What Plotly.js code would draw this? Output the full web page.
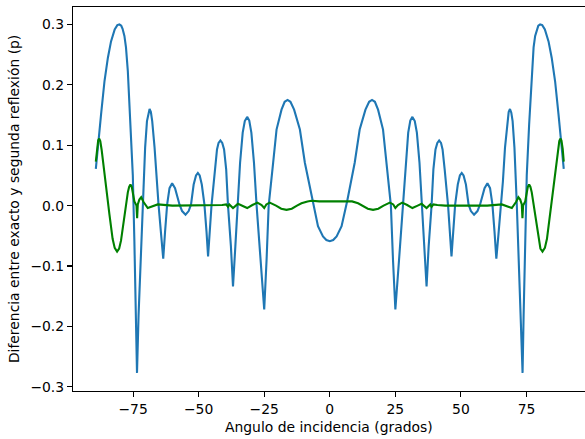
<!DOCTYPE html>
<html>
<head>
<meta charset="utf-8">
<script src="https://cdn.plot.ly/plotly-3.0.1.min.js"></script>
<style>html,body{margin:0;padding:0;background:#fff;}#chart{width:585px;height:439px;}</style>
</head>
<body>
<div id="chart"></div>
<script>
// Angles (degrees) and values
var anguloExacto = [-89.2,-88.2,-87.2,-85.9,-84.6,-83.4,-82.0,-81.0,-80.2,-79.5,-79.0,-78.3,-77.7,-77.0,-76.0,-75.1,-74.5,-73.9,-73.5,-72.9,-72.3,-71.9,-71.3,-70.4,-69.7,-69.2,-68.7,-68.2,-67.7,-66.8,-66.0,-65.3,-64.3,-63.5,-62.8,-62.0,-61.1,-60.1,-59.0,-57.3,-56.3,-55.0,-53.8,-52.9,-51.9,-51.0,-50.3,-49.6,-48.8,-47.8,-47.0,-46.4,-45.1,-43.8,-43.0,-42.4,-41.7,-41.0,-40.3,-39.5,-38.8,-37.7,-36.9,-36.0,-35.2,-34.2,-33.2,-32.4,-31.5,-30.7,-29.9,-28.9,-27.9,-26.4,-25.0,-24.1,-23.3,-21.6,-20.3,-18.4,-17.2,-16.1,-15.0,-13.6,-11.4,-9.5,-6.7,-4.5,-2.6,-1.3,0.0,
  1.3,2.6,4.5,6.7,9.5,11.4,13.6,15.0,16.1,17.2,18.4,20.3,21.6,23.3,24.1,25.0,26.4,27.9,28.9,29.9,30.7,31.5,32.4,33.2,34.2,35.2,36.0,36.9,37.7,38.8,39.5,40.3,41.0,41.7,42.4,43.0,43.8,45.1,46.4,47.0,47.8,48.8,49.6,50.3,51.0,51.9,52.9,53.8,55.0,56.3,57.3,59.0,60.1,61.1,62.0,62.8,63.5,64.3,65.3,66.0,66.8,67.7,68.2,68.7,69.2,69.7,70.4,71.3,71.9,72.3,72.9,73.5,73.9,74.5,75.1,76.0,77.0,77.7,78.3,79.0,79.5,80.2,81.0,82.0,83.4,84.6,85.9,87.2,88.2,89.2];
var difExacto = [0.061,0.110,0.151,0.206,0.245,0.272,0.292,0.299,0.300,0.298,0.293,0.281,0.262,0.223,0.134,0.051,-0.059,-0.181,-0.277,-0.181,-0.114,-0.070,0.002,0.096,0.140,0.154,0.160,0.155,0.140,0.096,0.040,0.002,-0.048,-0.088,-0.043,0.002,0.029,0.037,0.029,0.002,-0.009,-0.015,-0.009,0.002,0.035,0.050,0.054,0.050,0.035,0.002,-0.043,-0.084,0.000,0.060,0.093,0.104,0.108,0.104,0.093,0.060,0.000,-0.067,-0.134,-0.067,0.000,0.071,0.121,0.140,0.147,0.141,0.121,0.071,0.000,-0.090,-0.172,-0.090,0.000,0.071,0.126,0.159,0.172,0.175,0.172,0.159,0.126,0.071,0.009,-0.034,-0.051,-0.057,-0.059,
  -0.057,-0.051,-0.034,0.009,0.071,0.126,0.159,0.172,0.175,0.172,0.159,0.126,0.071,0.000,-0.090,-0.172,-0.090,0.000,0.071,0.121,0.141,0.147,0.140,0.121,0.071,0.000,-0.067,-0.134,-0.067,0.000,0.060,0.093,0.104,0.108,0.104,0.093,0.060,0.000,-0.084,-0.043,0.002,0.035,0.050,0.054,0.050,0.035,0.002,-0.009,-0.015,-0.009,0.002,0.029,0.037,0.029,0.002,-0.043,-0.088,-0.048,0.002,0.040,0.096,0.140,0.155,0.160,0.154,0.140,0.096,0.002,-0.070,-0.114,-0.181,-0.277,-0.181,-0.059,0.051,0.134,0.223,0.262,0.281,0.293,0.298,0.300,0.299,0.292,0.272,0.245,0.206,0.151,0.110,0.061];

var anguloSegunda = [-89.2,-88.8,-88.3,-87.9,-87.5,-87.0,-85.9,-84.0,-82.8,-82.0,-81.1,-80.3,-79.6,-78.3,-77.0,-76.5,-76.0,-75.5,-75.0,-74.5,-73.7,-73.45,-73.2,-72.6,-71.9,-71.0,-69.4,-67.8,-65.6,-60.0,-50.0,-44.0,-41.0,-39.5,-38.8,-38.3,-36.9,-35.0,-33.5,-31.5,-29.5,-27.6,-26.0,-25.0,-24.2,-22.9,-20.5,-18.5,-16.5,-14.5,-12.5,-10.8,-8.5,-7.0,-4.0,0.0,
  4.0,7.0,8.5,10.8,12.5,14.5,16.5,18.5,20.5,22.9,24.2,25.0,26.0,27.6,29.5,31.5,33.5,35.0,36.9,38.3,38.8,39.5,41.0,44.0,50.0,60.0,65.6,67.8,69.4,71.0,71.9,72.6,73.2,73.45,73.7,74.5,75.0,75.5,76.0,76.5,77.0,78.3,79.6,80.3,81.1,82.0,82.8,84.0,85.9,87.0,87.5,87.9,88.3,88.8,89.2];
var difSegunda = [0.073,0.094,0.108,0.111,0.107,0.093,0.051,-0.015,-0.055,-0.070,-0.076,-0.071,-0.058,-0.015,0.022,0.031,0.035,0.031,0.020,0.007,0.000,-0.021,0.002,0.010,0.014,0.006,-0.004,-0.001,0.002,0.000,0.000,0.000,0.001,0.002,-0.002,0.002,-0.004,0.003,0.000,-0.004,0.001,0.005,0.001,-0.004,0.002,0.005,0.000,-0.005,-0.007,-0.005,0.000,0.004,0.007,0.008,0.007,0.007,
  0.007,0.008,0.007,0.004,0.000,-0.005,-0.007,-0.005,0.000,0.005,0.002,-0.004,0.001,0.005,0.001,-0.004,0.000,0.003,-0.004,0.002,-0.002,0.002,0.001,0.000,0.000,0.000,0.002,-0.001,-0.004,0.006,0.014,0.010,0.002,-0.021,0.000,0.007,0.020,0.031,0.035,0.031,0.022,-0.015,-0.058,-0.071,-0.076,-0.070,-0.055,-0.015,0.051,0.093,0.107,0.111,0.108,0.094,0.073];

var xTicks = [-75,-50,-25,0,25,50,75];
var yTicks = [-0.3,-0.2,-0.1,0.0,0.1,0.2,0.3];

var traces = [
  {x: anguloExacto, y: difExacto, type: 'scatter', mode: 'lines',
   line: {color: '#1f77b4', width: 2.1}, hoverinfo: 'skip'},
  {x: anguloSegunda, y: difSegunda, type: 'scatter', mode: 'lines',
   line: {color: '#008000', width: 2.1}, hoverinfo: 'skip'}
];

var fnt = {family: 'DejaVu Sans', size: 13.9, color: '#000'};
var layout = {
  width: 585, height: 439,
  margin: {l: 73, r: 0, t: 7, b: 48},
  paper_bgcolor: '#fff', plot_bgcolor: '#fff',
  showlegend: false,
  font: fnt,
  xaxis: {
    range: [-97.9, 97.3], tickvals: xTicks,
    showgrid: false, zeroline: false,
    showline: true, linecolor: '#000', linewidth: 1.1, mirror: true,
    ticks: 'outside', ticklen: 5, tickwidth: 1.1, tickcolor: '#000',
    tickfont: fnt
  },
  yaxis: {
    range: [-0.307, 0.329], tickvals: yTicks, tickformat: '.1f',
    showgrid: false, zeroline: false,
    showline: true, linecolor: '#000', linewidth: 1.1, mirror: false,
    ticks: 'outside', ticklen: 5, tickwidth: 1.1, tickcolor: '#000',
    tickfont: fnt
  },
  annotations: [
    {text: 'Angulo de incidencia (grados)', xref: 'paper', yref: 'paper',
     x: 0.5, y: -0.094, xanchor: 'center', yanchor: 'middle', showarrow: false, font: fnt},
    {text: 'Diferencia entre exacto y segunda reflexión (p)', xref: 'paper', yref: 'paper',
     x: -0.115, y: 0.5, xanchor: 'center', yanchor: 'middle', textangle: -90, showarrow: false, font: fnt}
  ]
};

Plotly.newPlot('chart', traces, layout, {staticPlot: true, displayModeBar: false});
</script>
</body>
</html>
